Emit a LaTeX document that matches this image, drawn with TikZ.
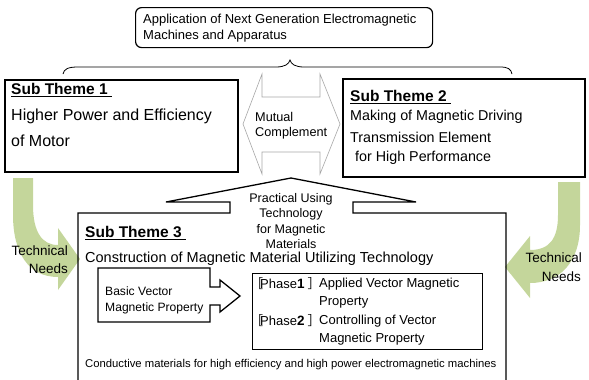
\documentclass[tikz,border=0pt]{standalone}
\usepackage{fontspec}
\setmainfont{Liberation Sans}
\newfontfamily\cjk{Noto Sans CJK JP}
\definecolor{grn}{RGB}{196,214,155}
\newcommand\myfs[1]{\fontsize{#1}{#1}\selectfont}
\newcommand\phs[1]{\hspace{-5pt}{\cjk ［}\hspace{-3pt}Phase\textbf{\myfs{13.5}#1}\hspace{3pt}{\cjk ］}}
\begin{document}
\begin{tikzpicture}[x=1pt,y=-1pt,
  lbl/.style={inner sep=0pt, anchor=west},
  rlbl/.style={inner sep=0pt, anchor=east},
  bigbox/.style={draw, line width=1.8pt, inner sep=0pt, anchor=north west},
  midbox/.style={draw, line width=1.3pt, inner sep=0pt, anchor=north west},
  outl/.style={draw=black, line width=1.3pt, line join=miter},
  grnarrow/.style={fill=grn, draw=none},
  dblarrow/.style={draw=gray!70, line width=0.6pt, line join=miter},
  bracefont/.style={line width=0.8pt}]
\useasboundingbox (0,0) rectangle (589,380);
% green curved arrows
\path[grnarrow] (13,178) -- (33,178) -- (33,205) .. controls (33,232) and (42,245) .. (58,245) -- (58,228) -- (80,259) -- (58,290) -- (58,277) .. controls (28,277) and (13,252) .. (13,215) -- cycle;
\path[grnarrow] (558,182) -- (580,182) -- (580,225) .. controls (580,262) and (560,283) .. (530,283) -- (530,298) -- (505,267) -- (530,236) -- (530,250) .. controls (550,250) and (558,238) .. (558,215) -- cycle;
% top box
\node[midbox, rounded corners=6pt, line width=1.2pt, minimum width=297pt, minimum height=40pt] (top) at (135,7) {};
\node[lbl, font=\myfs{13}] (top1) at (143,20) {Application of Next Generation Electromagnetic};
\node[lbl, font=\myfs{13}] (top2) at (143,36) {Machines and Apparatus};
% brace
\coordinate (bt) at (290,60);
\draw[bracefont] (63,74) .. controls (64,69) and (68,67) .. (78,67) -- (276,67) .. controls (285,67) and (289,64) .. (bt) .. controls (291,64) and (295,67) .. (304,67) -- (500,67) .. controls (508,67) and (511,69) .. (512,74);
% sub theme 1
\node[bigbox, minimum width=233pt, minimum height=92pt] (st1) at (4,79) {};
\node[lbl, font=\myfs{15.5}\bfseries] (st1a) at (11,90) {\underline{Sub Theme 1\hspace{4pt}}};
\node[lbl, font=\myfs{16}] (st1b) at (11,116) {Higher Power and Efficiency};
\node[lbl, font=\myfs{16}] (st1c) at (11,141) {of Motor};
% sub theme 2
\node[bigbox, minimum width=242pt, minimum height=98pt] (st2) at (342,78) {};
\node[lbl, font=\myfs{15.5}\bfseries] (st2a) at (350,97) {\underline{Sub Theme 2\hspace{4pt}}};
\node[lbl, font=\myfs{14.3}] (st2b) at (350,117) {Making of Magnetic Driving};
\node[lbl, font=\myfs{14.3}] (st2c) at (350,137) {Transmission Element};
\node[lbl, font=\myfs{14.3}] (st2d) at (355,158) {for High Performance};
% mutual complement
\draw[dblarrow] (243,124) -- (262,74) -- (262,97) -- (320,97) -- (320,74) -- (340,124) -- (320,174) -- (320,152) -- (262,152) -- (262,174) -- cycle;
\node[lbl, font=\myfs{12.7}] (mc1) at (255,117) {Mutual};
\node[lbl, font=\myfs{12.7}] (mc2) at (255,133) {Complement};
% sub theme 3 with roof arrow
\draw[outl] (78,382) -- (78,213) -- (230,213) -- (230,202) -- (166,202) -- (291,178) -- (416,202) -- (353,202) -- (353,213) -- (506,213) -- (506,382);
\node[inner sep=0pt, align=center, font=\fontsize{12.5}{15.5}\selectfont] (prac) at (291,221) {Practical Using\\Technology\\for Magnetic\\Materials};
\node[lbl, font=\myfs{15.5}\bfseries] (st3a) at (85,233) {\underline{Sub Theme 3\hspace{4pt}}};
\node[lbl, font=\myfs{14.5}] (st3b) at (85,259) {Construction of Magnetic Material Utilizing Technology};
% basic vector arrow box
\draw[outl] (98,268) -- (210,268) -- (210,287) -- (220,287) -- (220,280) -- (240,296) -- (220,312) -- (220,305) -- (210,305) -- (210,322) -- (98,322) -- cycle;
\node[lbl, font=\myfs{12.1}] (bv1) at (105,291) {Basic Vector};
\node[lbl, font=\myfs{12.1}] (bv2) at (105,308) {Magnetic Property};
% phase box
\node[midbox, minimum width=230pt, minimum height=76pt] (ph) at (252,273) {};
\node[lbl, font=\myfs{13}] (p1a) at (255,284) {\phs{1}};
\node[lbl, font=\myfs{13}] (p1b) at (319,284) {Applied Vector Magnetic};
\node[lbl, font=\myfs{13}] (p1c) at (319,302) {Property};
\node[lbl, font=\myfs{13}] (p2a) at (255,321) {\phs{2}};
\node[lbl, font=\myfs{13}] (p2b) at (319,321) {Controlling of Vector};
\node[lbl, font=\myfs{13}] (p2c) at (319,339) {Magnetic Property};
\node[lbl, font=\myfs{11.3}] (cond) at (85,365) {Conductive materials for high efficiency and high power electromagnetic machines};
% technical needs
\node[rlbl, font=\myfs{13.5}] (tl1) at (68,251) {Technical};
\node[rlbl, font=\myfs{13.5}] (tl2) at (68,269) {Needs};
\node[rlbl, font=\myfs{13.5}] (tr1) at (582,258) {Technical};
\node[rlbl, font=\myfs{13.5}] (tr2) at (581,277) {Needs};
\end{tikzpicture}
\end{document}
